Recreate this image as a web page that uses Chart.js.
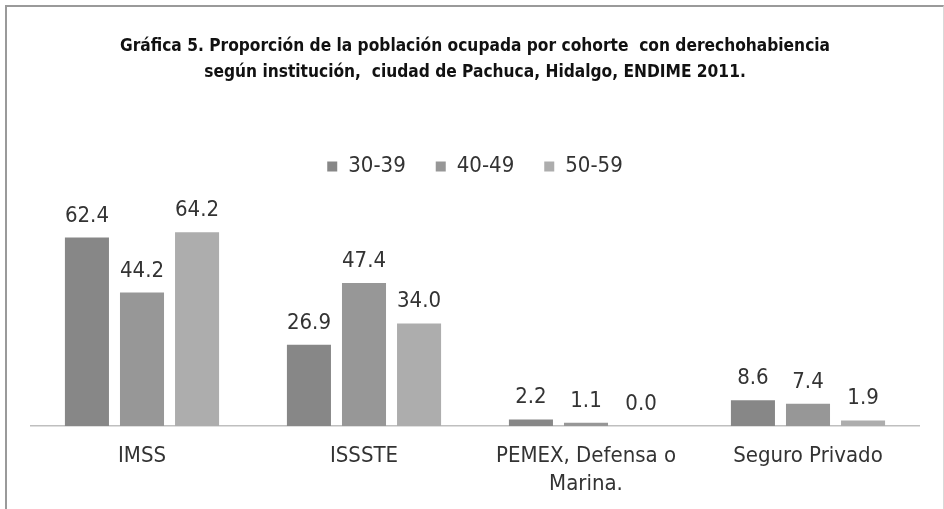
<!DOCTYPE html>
<html>
<head>
<meta charset="utf-8">
<script src="https://cdn.jsdelivr.net/npm/chart.js@4.4.1/dist/chart.umd.min.js"></script>
<style>
  html, body { margin: 0; padding: 0; background: #fff; }
  #frame {
    position: absolute; left: 5px; top: 5px; width: 936px; height: 510px;
    border-left: 2px solid #9a9a9a; border-top: 2px solid #9a9a9a; border-right: 1px solid #d9d9d9;
  }
  #wrap { position: absolute; left: 0; top: 0; width: 936px; height: 499px; }
</style>
</head>
<body>
<div id="frame"><div id="wrap"><canvas id="grafica"></canvas></div></div>
<script>
const FONT = "'Liberation Sans Narrow', 'Arial Narrow', 'DejaVu Sans Condensed', sans-serif";

const instituciones = ['IMSS', 'ISSSTE', ['PEMEX, Defensa o', 'Marina.'], 'Seguro Privado'];
const cohortes = ['30-39', '40-49', '50-59'];
const valores3039 = [62.4, 26.9, 2.2, 8.6];
const valores4049 = [44.2, 47.4, 1.1, 7.4];
const valores5059 = [64.2, 34.0, 0.0, 1.9];
const colores = ['#878787', '#979797', '#adadad'];

// etiquetas de valor encima de cada barra
const etiquetasValor = {
  id: 'etiquetasValor',
  afterDatasetsDraw(chart) {
    const { ctx } = chart;
    ctx.save();
    ctx.font = '22px ' + FONT;
    ctx.fillStyle = '#333333';
    ctx.textAlign = 'center';
    ctx.textBaseline = 'alphabetic';
    chart.data.datasets.forEach((ds, i) => {
      chart.getDatasetMeta(i).data.forEach((bar, j) => {
        ctx.fillText(ds.data[j].toFixed(1), bar.x, bar.y - 16);
      });
    });
    ctx.restore();
  }
};

// espacio extra debajo de la leyenda
const margenLeyenda = {
  id: 'margenLeyenda',
  beforeInit(chart) {
    const fitOriginal = chart.legend.fit;
    chart.legend.fit = function fit() {
      fitOriginal.bind(chart.legend)();
      this.height += 27;
    };
  }
};

new Chart(document.getElementById('grafica'), {
  type: 'bar',
  data: {
    labels: instituciones,
    datasets: cohortes.map((c, i) => ({
      label: c,
      data: [valores3039, valores4049, valores5059][i],
      backgroundColor: colores[i],
      borderWidth: 0,
      categoryPercentage: 0.744,
      barPercentage: 0.8
    }))
  },
  options: {
    responsive: true,
    maintainAspectRatio: false,
    animation: false,
    layout: { padding: { left: 24, right: 24, top: 0, bottom: 0 } },
    scales: {
      x: {
        grid: { display: false },
        border: { color: '#bfbfbf', width: 1.5 },
        ticks: {
          color: '#333333',
          padding: 8,
          maxRotation: 0,
          autoSkip: false,
          font: { family: FONT, size: 22, lineHeight: 1.27 }
        }
      },
      y: {
        display: false,
        min: 0,
        max: 70
      }
    },
    plugins: {
      title: {
        display: true,
        text: ['Gráfica 5. Proporción de la población ocupada por cohorte  con derechohabiencia',
               'según institución,  ciudad de Pachuca, Hidalgo, ENDIME 2011.'],
        color: '#111111',
        font: { family: FONT, size: 17.2, weight: 'bold', lineHeight: 1.5 },
        padding: { top: 27, bottom: 40 }
      },
      legend: {
        display: true,
        labels: {
          color: '#333333',
          boxWidth: 10,
          boxHeight: 10,
          padding: 30,
          font: { family: FONT, size: 22 }
        }
      },
      tooltip: { enabled: false }
    }
  },
  plugins: [etiquetasValor, margenLeyenda]
});
</script>
</body>
</html>
